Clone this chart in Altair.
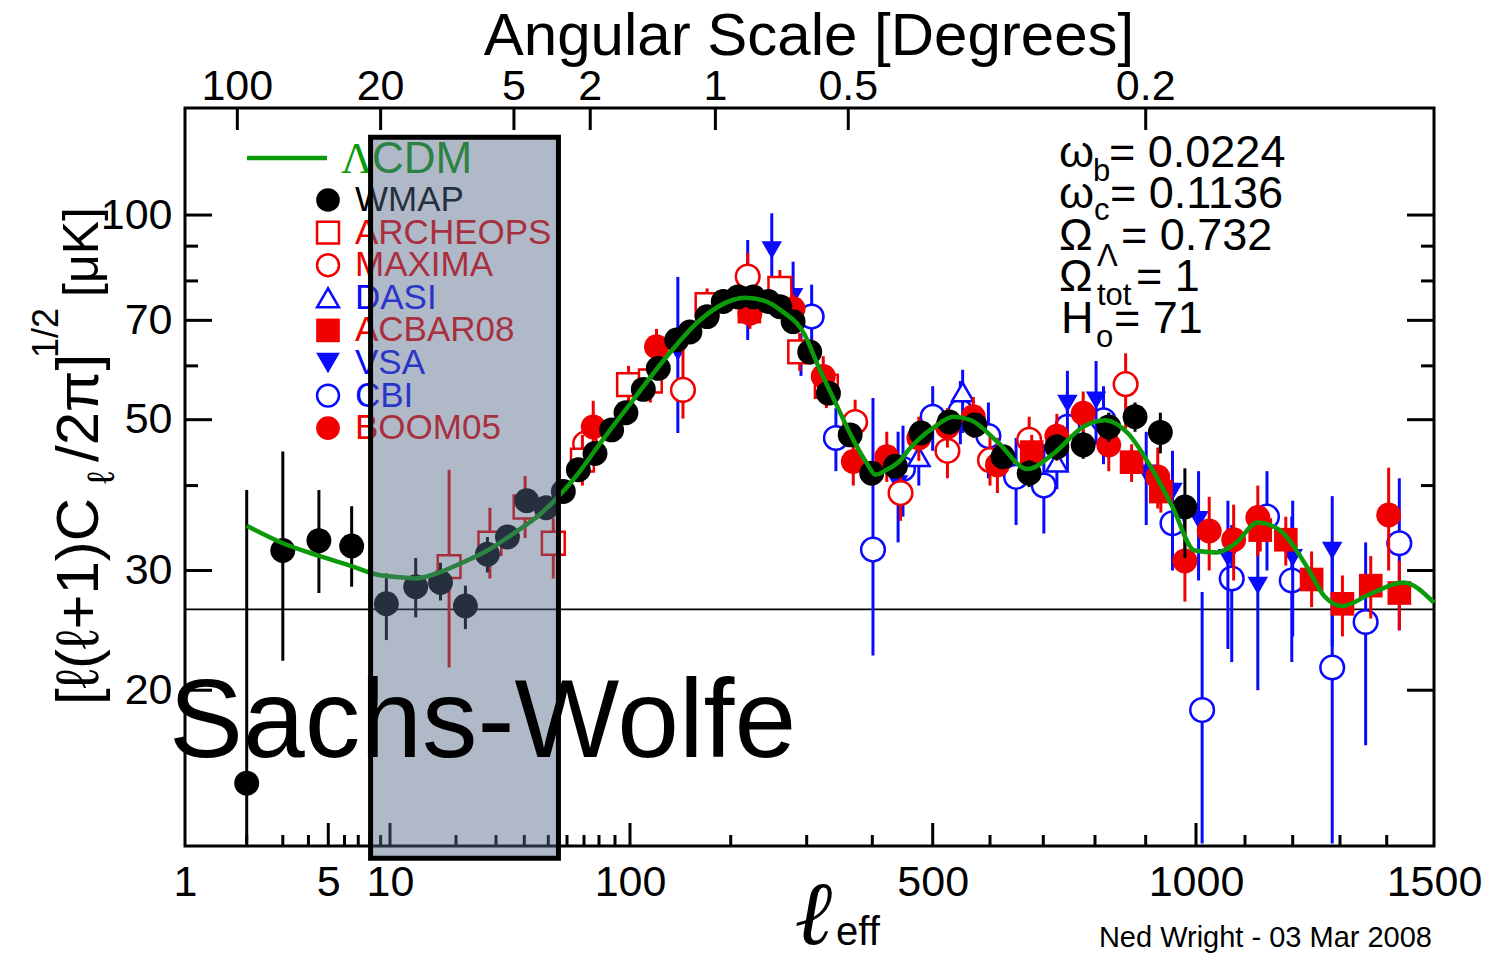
import altair as alt
import pandas as pd

# ---------------- layout of the page ----------------
LEFT, TOP, W, H = 185, 108, 1249, 738

# ---------------- axis knots (non-uniform l axis of the original) ----------------
ELL_KNOTS = [1, 10, 20, 30, 40, 50, 60, 70, 80, 90, 100, 200, 300, 400, 500,
             600, 700, 800, 900, 1000, 1100, 1200, 1300, 1400, 1500]
PIX_KNOTS = [185, 390, 456, 496, 524.3, 548.3, 567, 584, 599, 615, 630, 730.7,
             806.7, 872.3, 932.7, 990, 1043.3, 1095, 1145.7, 1196, 1245, 1292.7,
             1340, 1386.7, 1434]
UK_DOMAIN = [11.8, 143.7]

X_LABELS = [1, 5, 10, 100, 500, 1000, 1500]
X_MAJOR = [5, 10, 100, 500, 1000]
X_MINOR = [2, 3, 4, 6, 7, 8, 9, 20, 30, 40, 50, 60, 70, 80, 90, 200, 300, 400,
           600, 700, 800, 900, 1100, 1200, 1300, 1400]
Y_LABELS = [20, 30, 50, 70, 100]
Y_MINOR = [40, 60, 80, 90]
ANG_LABELS = ["100", "20", "5", "2", "1", "0.5", "0.2"]
ANG_ELL = [1.8, 9, 36, 74, 180, 360, 900]

# ---------------- data ----------------
wmap_ell = [2, 3, 4.5, 6.5, 9.6, 13.1, 17.0, 22.0, 27.5, 33.7, 40.9, 49.0, 57.9, 66.5,
            77.2, 87.8, 97.2, 109.6, 121.5, 137.9, 151, 170, 190, 208, 225.6, 244.4,
            260, 279, 304, 330, 363, 399, 435.6, 479, 527, 572, 623, 672, 725, 776,
            826, 878, 928, 977]
wmap_uk = [14.6, 32.1, 33.2, 32.6, 26.8, 28.4, 28.8, 26.6, 31.7, 33.6, 38.0, 37.1, 39.2,
           42.2, 44.6, 48.3, 51.2, 55.4, 59.5, 65.5, 67.3, 70.9, 74.6, 75.8, 75.8, 74.6,
           73.3, 69.7, 62.9, 54.7, 47.5, 41.7, 42.7, 47.8, 49.6, 49.1, 44.1, 41.7, 45.6,
           45.9, 48.8, 50.5, 47.9, 37.2]
wmap_lo = [11.9, 22.1, 27.8, 28.4, 23.7, 25.6, 27.1, 24.6, 29.8, 32.3, 36.8, 36.0, 38.2,
           41.2, 43.6, 47.3, 50.2, 54.3, 58.4, 64.3, 66.1, 69.7, 73.3, 74.5, 74.5, 73.3,
           72.0, 68.4, 61.6, 53.4, 46.2, 40.4, 41.3, 46.3, 48.0, 47.4, 42.3, 39.8, 43.6,
           43.8, 46.4, 48.0, 44.6, 31.3]
wmap_hi = [39.4, 44.9, 39.4, 37.3, 29.7, 31.3, 30.8, 28.5, 33.6, 34.9, 39.3, 38.2, 40.2,
           43.2, 45.6, 49.3, 52.2, 56.5, 60.6, 66.7, 68.5, 72.1, 75.9, 77.1, 77.1, 75.9,
           74.6, 71.0, 64.2, 56.0, 48.8, 43.0, 44.1, 49.3, 51.2, 50.8, 45.9, 43.6, 47.6,
           48.0, 51.2, 53.0, 51.2, 42.4]

boom_ell = [76, 120, 221.6, 279, 322.6, 368, 422, 475, 524, 569, 613, 725, 776, 826,
            923, 977, 1026, 1076, 1126, 1404]
boom_uk = [48.8, 64.0, 71.7, 72.8, 57.9, 43.4, 44.1, 47.0, 48.8, 50.5, 42.9, 47.3, 51.1,
           45.9, 41.2, 31.0, 34.3, 33.3, 35.9, 36.2]
boom_lo = [44.5, 60.0, 68.0, 69.0, 54.0, 40.0, 40.5, 43.5, 45.5, 47.0, 39.0, 43.5, 47.0,
           42.0, 37.0, 27.0, 30.0, 29.0, 31.5, 30.0]
boom_hi = [53.3, 68.0, 76.0, 76.5, 62.0, 47.0, 48.0, 50.5, 52.0, 54.0, 47.0, 51.0, 55.0,
           50.0, 45.5, 35.5, 38.5, 37.5, 40.0, 42.5]

acbar_ell = [221, 677, 871, 929, 1131, 1185, 1239, 1305, 1365, 1426]
acbar_uk = [72.1, 44.8, 43.3, 39.2, 34.4, 33.3, 29.1, 26.8, 28.5, 27.8]
acbar_lo = [68.5, 42.0, 40.5, 36.5, 32.0, 30.5, 26.5, 24.0, 25.5, 24.5]
acbar_hi = [76.0, 47.5, 46.0, 42.0, 37.0, 36.0, 32.0, 29.5, 31.5, 31.0]

arch_ell = [18.6, 28.2, 40.3, 52.5, 69, 99, 115, 170, 260, 289, 327]
arch_uk = [30.4, 32.9, 37.2, 32.9, 43.6, 56.3, 57.0, 73.8, 78.0, 62.9, 56.0]
arch_lo = [21.6, 29.2, 33.5, 29.2, 40.0, 52.0, 53.0, 69.0, 73.0, 59.0, 52.0]
arch_hi = [42.2, 37.1, 41.3, 35.8, 47.5, 60.0, 61.0, 78.0, 83.0, 67.0, 60.0]

maxima_ell = [70.7, 144, 219, 371, 444, 524, 600, 672, 859]
maxima_uk = [46.1, 55.3, 81.2, 49.6, 39.0, 45.0, 43.6, 46.7, 56.4]
maxima_lo = [43.0, 50.2, 75.0, 45.5, 35.5, 41.0, 40.0, 43.0, 48.5]
maxima_hi = [49.0, 64.0, 88.0, 53.5, 43.0, 49.5, 47.5, 50.5, 62.6]

dasi_ell = [291, 475, 550, 725]
dasi_uk = [62.6, 44.1, 54.9, 43.3]
dasi_lo = [58.0, 40.0, 47.8, 39.5]
dasi_hi = [67.0, 48.0, 59.2, 47.0]

vsa_ell = [139, 219, 249, 279, 440, 745, 802, 901, 952, 1005, 1064, 1126, 1200, 1283]
vsa_uk = [62.9, 78.9, 88.8, 75.8, 40.2, 52.8, 53.4, 41.7, 39.2, 35.6, 31.3, 28.5, 31.3, 32.1]
vsa_lo = [47.8, 65.5, 77.5, 66.9, 33.0, 45.0, 46.0, 35.0, 33.0, 29.0, 23.0, 20.0, 24.0, 23.2]
vsa_hi = [81.1, 91.9, 100.6, 85.4, 48.0, 59.0, 61.0, 48.0, 45.0, 42.0, 38.0, 36.0, 38.0, 38.6]

cbi_ell = [306.6, 341, 401, 448, 500, 546, 597, 647, 701, 745, 816, 952, 1012, 1072,
           1145, 1198, 1283, 1354, 1426]
cbi_uk = [70.9, 47.0, 32.2, 42.3, 50.5, 51.4, 47.3, 41.2, 40.0, 48.8, 49.9, 35.2, 18.7,
          29.2, 36.0, 29.0, 21.6, 25.2, 32.9]
cbi_lo = [63.0, 42.0, 22.5, 36.0, 45.0, 46.0, 41.0, 35.0, 34.0, 42.0, 43.0, 30.0, 11.9,
          22.0, 30.0, 22.0, 11.9, 16.6, 24.5]
cbi_hi = [79.0, 52.0, 53.8, 49.0, 56.0, 57.0, 53.0, 47.0, 46.0, 55.0, 56.0, 40.0, 27.9,
          35.0, 42.0, 36.0, 33.0, 33.0, 41.0]

lcdm_ell = [2, 3, 4.55, 6.6, 8.6, 11.5, 13, 15.8, 20.8, 27.5, 35.8, 46.3, 55, 66.5, 80.5,
            102, 129, 162, 202, 216, 242, 264, 296, 316, 341, 368, 390, 405, 422, 444,
            457, 503, 534, 565, 613, 669, 719, 776, 819, 863, 909, 952, 997, 1041, 1080,
            1126, 1172, 1229, 1266, 1305, 1368, 1434, 1500]
lcdm_uk = [34.9, 32.9, 31.5, 30.4, 29.6, 29.3, 29.2, 29.6, 30.7, 32.1, 34.0, 36.3, 38.5,
           41.7, 46.1, 53.4, 62.0, 70.1, 75.0, 75.6, 74.6, 72.1, 66.9, 59.8, 52.8, 46.7,
           43.2, 41.5, 42.2, 43.6, 45.1, 48.8, 50.5, 49.9, 46.4, 42.3, 44.6, 48.8, 49.9,
           47.8, 42.7, 37.2, 32.1, 31.9, 32.9, 35.3, 34.4, 30.4, 27.5, 26.6, 27.8, 28.8, 26.9]

REF_LEVEL = [26.3]
SW_BOX_ELL = [8.04, 55.2]
SW_BOX_UK = [11.32, 130.2]

LEG_NAMES = ["WMAP", "ARCHEOPS", "MAXIMA", "DASI", "ACBAR08", "VSA", "CBI", "BOOM05"]
LEG_SHAPES = ["circle", "square", "circle", "triangle-up", "square", "triangle-down",
              "circle", "circle"]
LEG_FILLED = [True, False, False, False, True, True, False, True]

# ---------------- styles ----------------
BLACK, RED, BLUE, GREEN = "#000000", "#f00000", "#0a0aff", "#0a9a0a"
LEG_COLORS = [BLACK, RED, RED, BLUE, RED, BLUE, BLUE, RED]
FONT = "Liberation Sans"

XS = alt.Scale(type="log", domain=ELL_KNOTS,
               range=[round(p - LEFT, 1) for p in PIX_KNOTS], nice=False)
YS = alt.Scale(type="log", domain=UK_DOMAIN, nice=False)
ONE = pd.DataFrame({"k": [0]})


def xq(f):
    return alt.X(f"{f}:Q", scale=XS, axis=None)


def yq(f):
    return alt.Y(f"{f}:Q", scale=YS, axis=None)


def series(ell, uk, lo, hi, color, shape, filled, size):
    df = pd.DataFrame(dict(ell=ell, uK=uk, lo=lo, hi=hi))
    bars = alt.Chart(df).mark_rule(color=color, strokeWidth=3).encode(
        x=xq("ell"), y=yq("lo"), y2=alt.Y2("hi:Q"))
    if filled:
        m = alt.Chart(df).mark_point(shape=shape, size=size, filled=True,
                                     color=color, opacity=1)
    else:
        m = alt.Chart(df).mark_point(shape=shape, size=size, filled=True,
                                     fill="white", stroke=color, strokeWidth=2.5,
                                     opacity=1)
    pts = m.encode(x=xq("ell"), y=yq("uK"))
    return [bars, pts]


def txt(s, x, y, size, color=BLACK, align="left", baseline="alphabetic",
        angle=0, font=FONT, **kw):
    return alt.Chart(ONE).mark_text(
        text=s, fontSize=size, color=color, align=align, baseline=baseline,
        angle=angle, font=font, **kw).encode(
        x=alt.value(x - LEFT), y=alt.value(y - TOP))


layers = []

# horizontal reference line
layers.append(alt.Chart(pd.DataFrame({"uK": REF_LEVEL})).mark_rule(
    color=BLACK, strokeWidth=1.6).encode(
    y=yq("uK"), x=alt.value(0), x2=alt.value(W)))

# data series
layers += series(cbi_ell, cbi_uk, cbi_lo, cbi_hi, BLUE, "circle", False, 560)
layers += series(vsa_ell, vsa_uk, vsa_lo, vsa_hi, BLUE, "triangle-down", True, 420)
layers += series(dasi_ell, dasi_uk, dasi_lo, dasi_hi, BLUE, "triangle-up", False, 460)
layers += series(maxima_ell, maxima_uk, maxima_lo, maxima_hi, RED, "circle", False, 560)
layers += series(arch_ell, arch_uk, arch_lo, arch_hi, RED, "square", False, 520)
layers += series(acbar_ell, acbar_uk, acbar_lo, acbar_hi, RED, "square", True, 560)
layers += series(boom_ell, boom_uk, boom_lo, boom_hi, RED, "circle", True, 620)
layers += series(wmap_ell, wmap_uk, wmap_lo, wmap_hi, BLACK, "circle", True, 620)

# model curve
layers.append(alt.Chart(pd.DataFrame(dict(ell=lcdm_ell, uK=lcdm_uk))).mark_line(
    color=GREEN, strokeWidth=4.5, interpolate="monotone").encode(
    x=xq("ell"), y=yq("uK")))

# ---- ticks and axes ----
layers.append(alt.Chart(pd.DataFrame({"ell": X_MAJOR})).mark_rule(
    color=BLACK, strokeWidth=3).encode(
    x=alt.X("ell:Q", scale=XS, axis=alt.Axis(
        values=X_LABELS, format="d", title=None, labelFontSize=43, labelFont=FONT,
        labelColor=BLACK, labelBaseline="alphabetic", labelPadding=49, ticks=False,
        tickSize=0, domain=False, grid=False, labelFlush=False, labelOverlap=False)),
    y=alt.value(H), y2=alt.value(H - 23)))
layers.append(alt.Chart(pd.DataFrame({"ell": X_MINOR})).mark_rule(
    color=BLACK, strokeWidth=3).encode(
    x=xq("ell"), y=alt.value(H), y2=alt.value(H - 11)))
layers.append(alt.Chart(pd.DataFrame({"ell": ANG_ELL})).mark_rule(
    color=BLACK, strokeWidth=3).encode(
    x=xq("ell"), y=alt.value(0), y2=alt.value(22)))
layers.append(alt.Chart(pd.DataFrame({"ell": ANG_ELL, "lab": ANG_LABELS})).mark_text(
    fontSize=43, font=FONT, color=BLACK, align="center", baseline="alphabetic").encode(
    x=xq("ell"), y=alt.value(100 - TOP), text="lab:N"))

layers.append(alt.Chart(pd.DataFrame({"uK": Y_LABELS})).mark_rule(
    color=BLACK, strokeWidth=3).encode(
    y=alt.Y("uK:Q", scale=YS, axis=alt.Axis(
        values=Y_LABELS, format="d", title=None, labelFontSize=43, labelFont=FONT,
        labelColor=BLACK, labelPadding=13, ticks=False, tickSize=0, domain=False,
        grid=False, labelFlush=False, labelOverlap=False)),
    x=alt.value(0), x2=alt.value(27)))
layers.append(alt.Chart(pd.DataFrame({"uK": Y_MINOR})).mark_rule(
    color=BLACK, strokeWidth=3).encode(
    y=yq("uK"), x=alt.value(0), x2=alt.value(13)))
layers.append(alt.Chart(pd.DataFrame({"uK": Y_LABELS})).mark_rule(
    color=BLACK, strokeWidth=3).encode(
    y=yq("uK"), x=alt.value(W - 27), x2=alt.value(W)))
layers.append(alt.Chart(pd.DataFrame({"uK": Y_MINOR})).mark_rule(
    color=BLACK, strokeWidth=3).encode(
    y=yq("uK"), x=alt.value(W - 13), x2=alt.value(W)))

# ---- legend ----
layers.append(alt.Chart(ONE).mark_rule(color=GREEN, strokeWidth=4.5).encode(
    x=alt.value(247 - LEFT), x2=alt.value(327 - LEFT), y=alt.value(158 - TOP)))
layers.append(txt("Λ", 341, 173, 44, color=GREEN, font="Liberation Serif"))
layers.append(txt("CDM", 372, 173, 44, color=GREEN))

legdf = pd.DataFrame(dict(name=LEG_NAMES, col=LEG_COLORS, shp=LEG_SHAPES,
                          filled=LEG_FILLED, i=list(range(len(LEG_NAMES)))))
legbase = alt.Chart(legdf).transform_calculate(ly=f"{200 - TOP} + datum.i * 32.6")
layers.append(legbase.transform_filter("datum.filled").mark_point(
    filled=True, size=560, opacity=1).encode(
    x=alt.value(328 - LEFT), y=alt.Y("ly:Q", scale=None),
    color=alt.Color("col:N", scale=None), shape=alt.Shape("shp:N", scale=None)))
layers.append(legbase.transform_filter("!datum.filled").mark_point(
    filled=True, fill="white", size=480, strokeWidth=2.5, opacity=1).encode(
    x=alt.value(328 - LEFT), y=alt.Y("ly:Q", scale=None),
    stroke=alt.Stroke("col:N", scale=None), shape=alt.Shape("shp:N", scale=None)))
layers.append(legbase.mark_text(align="left", baseline="middle", fontSize=35,
                                font=FONT).encode(
    x=alt.value(355 - LEFT), y=alt.Y("ly:Q", scale=None), text="name:N",
    color=alt.Color("col:N", scale=None)))

# ---- cosmological parameters ----
for s, x, y in [("ω", 1059, 167), ("= 0.0224", 1109, 167),
                ("ω", 1059, 208), ("= 0.1136", 1110, 208),
                ("Ω", 1059, 250), ("= 0.732", 1121, 250),
                ("Ω", 1059, 291), ("= 1", 1136, 291),
                ("H", 1061, 333), ("= 71", 1114, 333)]:
    layers.append(txt(s, x, y, 45))
for s, x, y in [("b", 1093, 181), ("c", 1094, 220), ("Λ", 1097, 266),
                ("tot", 1097, 305), ("o", 1096, 347)]:
    layers.append(txt(s, x, y, 31))

# ---- Sachs-Wolfe box ----
layers.append(alt.Chart(pd.DataFrame(dict(l1=[SW_BOX_ELL[0]], l2=[SW_BOX_ELL[1]],
                                          u1=[SW_BOX_UK[0]], u2=[SW_BOX_UK[1]]))).mark_rect(
    fill="#536787", fillOpacity=0.46, stroke=BLACK, strokeWidth=5).encode(
    x=xq("l1"), x2=alt.X2("l2:Q"), y=yq("u1"), y2=alt.Y2("u2:Q")))
layers.append(txt("Sachs-Wolfe", 169, 757, 111))

# ---- titles ----
layers.append(txt("Angular Scale [Degrees]", 809, 55, 60, align="center"))
layers.append(txt("ℓ", 796, 944, 90, font="DejaVu Serif", fontStyle="italic",
                  fontWeight="bold"))
layers.append(txt("eff", 836, 945, 40))
layers.append(txt("Ned Wright - 03 Mar 2008", 1432, 947, 29, align="right"))

for s, x, y, fs in [("[ℓ(ℓ+1)C", 98, 705, 60), ("ℓ", 114, 484, 38),
                    ("/2π]", 98, 462, 60), ("1/2", 58, 358, 36),
                    ("[μK]", 98, 297, 50)]:
    layers.append(txt(s, x, y, fs, angle=270))

chart = alt.layer(*layers).resolve_axis(x="independent", y="independent").properties(
    width=W, height=H, autosize=alt.AutoSizeParams(type="none"),
    padding={"left": LEFT, "top": TOP, "right": 1491 - LEFT - W,
             "bottom": 956 - TOP - H},
    background="white",
).configure_view(stroke=BLACK, strokeWidth=3, fill="white")

chart.save("out.html", embed_options={"renderer": "svg", "actions": False})
